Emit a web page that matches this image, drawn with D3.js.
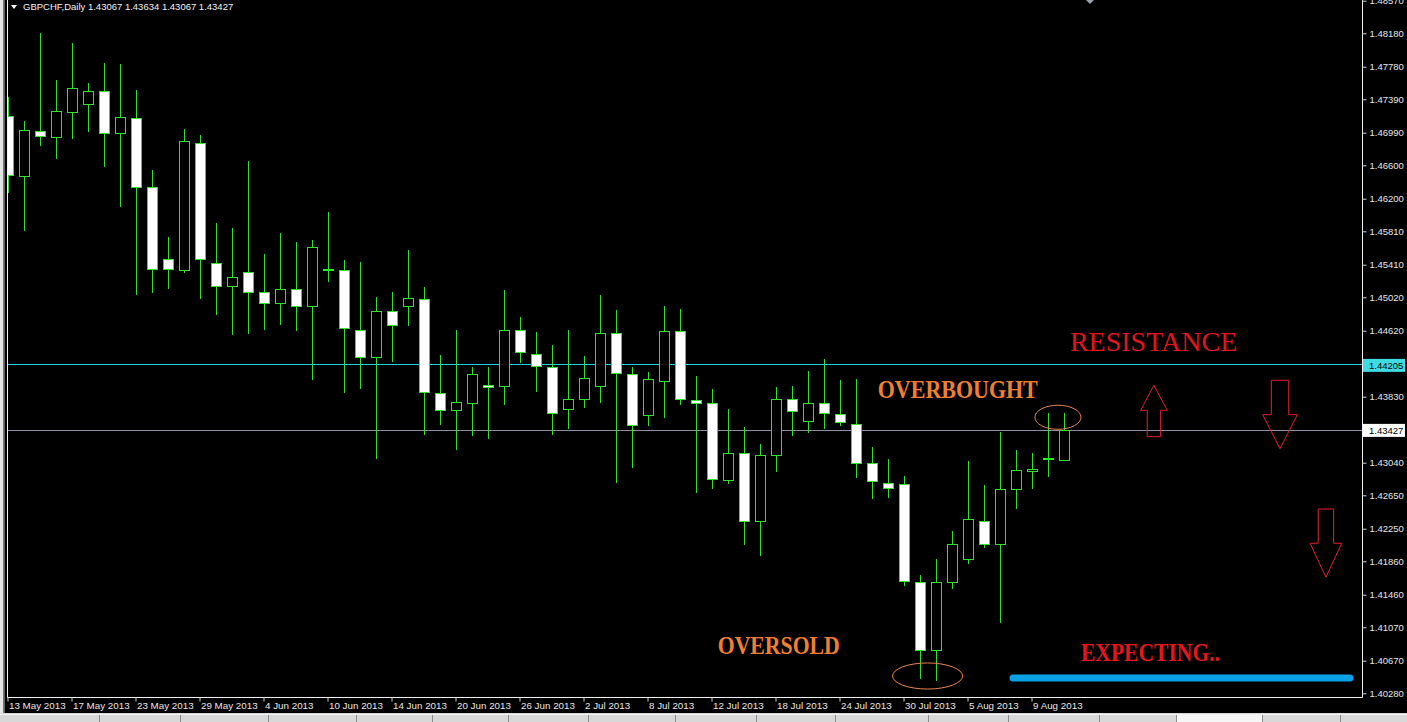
<!DOCTYPE html>
<html><head><meta charset="utf-8">
<script src="https://cdn.jsdelivr.net/npm/d3@7"></script>
<style>html,body{margin:0;padding:0;background:#000;overflow:hidden}</style>
</head><body>
<svg id="c" width="1407" height="722"></svg>
<script>
// ---------------- DATA ----------------
const symbolTitle = "GBPCHF,Daily";
const lastOHLC = [1.43067, 1.43634, 1.43067, 1.43427];

const openP = [
 1.47194, 1.46468, 1.47007, 1.46935, 1.47235, 1.47330, 1.47486, 1.46983, 1.47163, 1.46337,
 1.45479, 1.45343, 1.46864, 1.45427, 1.45152, 1.45319, 1.45080, 1.44948, 1.45120, 1.44912,
 1.45351, 1.45343, 1.44625, 1.44302, 1.44853, 1.44912, 1.44996, 1.43878, 1.43668, 1.43751,
 1.43967, 1.43955, 1.44625, 1.44345, 1.44189, 1.43680, 1.43799, 1.43955, 1.44589, 1.44098,
 1.43608, 1.44015, 1.44613, 1.43794, 1.43751, 1.42830, 1.43153, 1.42339, 1.43129, 1.43806,
 1.43536, 1.43751, 1.43627, 1.43507, 1.43033, 1.42794, 1.42782, 1.41616, 1.40798, 1.41616,
 1.41884, 1.42339, 1.42064, 1.42722, 1.42937, 1.43085, 1.43067];
const highP = [
 1.47421, 1.47134, 1.48187, 1.47618, 1.48068, 1.47589, 1.47828, 1.47813, 1.47502, 1.46544,
 1.45746, 1.47038, 1.46963, 1.45913, 1.45853, 1.46652, 1.45538, 1.45793, 1.45686, 1.45706,
 1.46041, 1.45467, 1.45443, 1.45027, 1.45084, 1.45586, 1.45143, 1.44329, 1.44629, 1.44189,
 1.44189, 1.45108, 1.44788, 1.44605, 1.44453, 1.44629, 1.44317, 1.45048, 1.44868, 1.44189,
 1.44122, 1.44916, 1.44884, 1.44078, 1.43923, 1.43687, 1.43468, 1.43264, 1.43943, 1.43958,
 1.44138, 1.44282, 1.44030, 1.44046, 1.43228, 1.43085, 1.42885, 1.41692, 1.41888, 1.42226,
 1.43061, 1.42777, 1.43408, 1.43189, 1.43153, 1.43632, 1.43634];
const lowP = [
 1.46269, 1.45810, 1.46831, 1.46672, 1.46911, 1.47002, 1.46583, 1.46097, 1.45044, 1.45068,
 1.45123, 1.45315, 1.45003, 1.44805, 1.44565, 1.44581, 1.44629, 1.44692, 1.44613, 1.44030,
 1.45207, 1.43878, 1.43923, 1.43085, 1.44246, 1.44680, 1.43372, 1.43495, 1.43196, 1.43364,
 1.43324, 1.43735, 1.44237, 1.43890, 1.43375, 1.43447, 1.43699, 1.43759, 1.42801, 1.42980,
 1.43480, 1.43579, 1.43731, 1.42681, 1.42726, 1.42785, 1.42052, 1.41924, 1.42929, 1.43360,
 1.43399, 1.43444, 1.43480, 1.42861, 1.42606, 1.42621, 1.41568, 1.40448, 1.40431, 1.41528,
 1.41824, 1.42023, 1.41125, 1.42486, 1.42729, 1.42873, 1.43067];
const closeP = [
 1.46484, 1.47019, 1.46947, 1.47250, 1.47522, 1.47490, 1.46983, 1.47178, 1.46337, 1.45359,
 1.45359, 1.46891, 1.45479, 1.45152, 1.45263, 1.45080, 1.44948, 1.45120, 1.44912, 1.45619,
 1.45351, 1.44649, 1.44302, 1.44856, 1.44685, 1.45008, 1.43883, 1.43668, 1.43763, 1.44098,
 1.43943, 1.44629, 1.44362, 1.44198, 1.43632, 1.43799, 1.44051, 1.44589, 1.44110, 1.43488,
 1.44039, 1.44613, 1.43799, 1.43751, 1.42842, 1.43153, 1.42339, 1.43129, 1.43799, 1.43656,
 1.43751, 1.43632, 1.43524, 1.43033, 1.42818, 1.42734, 1.41621, 1.40798, 1.41616, 1.42064,
 1.42363, 1.42064, 1.42722, 1.42949, 1.42961, 1.43085, 1.43427];

const dateLabels = ["13 May 2013","17 May 2013","23 May 2013","29 May 2013","4 Jun 2013",
 "10 Jun 2013","14 Jun 2013","20 Jun 2013","26 Jun 2013","2 Jul 2013","8 Jul 2013",
 "12 Jul 2013","18 Jul 2013","24 Jul 2013","30 Jul 2013","5 Aug 2013","9 Aug 2013"];
const dateLabelStep = 4;

const priceTicks = [1.48570, 1.48180, 1.47780, 1.47390, 1.46990, 1.46600, 1.46200, 1.45810,
 1.45410, 1.45020, 1.44620, 1.43830, 1.43040, 1.42650, 1.42250, 1.41860, 1.41460,
 1.41070, 1.40670, 1.40280];

const resistanceLevel = 1.44205;
const currentPrice = 1.43427;

// annotation anchors (bar index, price)
const noteTexts  = ["RESISTANCE", "OVERBOUGHT", "OVERSOLD", "EXPECTING.."];
const noteBars   = [66.34, 54.33, 44.33, 67.03];
const notePrices = [1.44381, 1.43818, 1.40750, 1.40670];

const ellipseBars   = [57.44, 65.59];
const ellipsePrices = [1.40487, 1.43584];
const ellipseBarR   = [2.19, 1.44];
const ellipsePriceR = [0.00156, 0.00144];

const arrowBars      = [71.59, 79.47, 82.34];
const arrowTailPrice = [1.43352, 1.44027, 1.42486];
const arrowTipPrice  = [1.43967, 1.43208, 1.41669];

const expectBarFrom = 62.78, expectBarTo = 83.84, expectPrice = 1.40463;

// ---------------- DRAW ----------------
const W = 1407, H = 722;
const plotL = 7, plotR = 1362, plotB = 697;
const svg = d3.select("#c");

const x = d3.scaleLinear().domain([0, 66]).range([8.5, 1064.5]);
const y = d3.scaleLinear().domain([1.40280, 1.48180]).range([693.3, 33.3]);

// window background
svg.append("rect").attr("width", W).attr("height", H).attr("fill", "#000");
svg.append("rect").attr("x", 0).attr("y", 0).attr("width", 3.3).attr("height", 713).attr("fill", "#e4e4e4");
svg.append("rect").attr("x", 3.3).attr("y", 0).attr("width", 1.4).attr("height", 713).attr("fill", "#8a8a8a");

// bottom tab strip
svg.append("rect").attr("x", 0).attr("y", 713).attr("width", W).attr("height", 9).attr("fill", "#d8d8d8");
svg.append("line").attr("x1", 0).attr("x2", W).attr("y1", 714.5).attr("y2", 714.5).attr("stroke", "#f4f4f4");
svg.append("rect").attr("x", 1176).attr("y", 715).attr("width", 86).attr("height", 7).attr("fill", "#f6f6f6");
const tabSeps = [99, 180, 268, 356, 432, 508, 588, 675, 756, 835, 928, 1008, 1099, 1176, 1262, 1340];
svg.selectAll(".tabsep").data(tabSeps).join("line")
  .attr("x1", d => d + 0.5).attr("x2", d => d + 0.5).attr("y1", 715).attr("y2", 722)
  .attr("stroke", "#8c8c8c");

// clip
svg.append("defs").append("clipPath").attr("id", "plotclip")
  .append("rect").attr("x", plotL + 0.5).attr("y", 0).attr("width", plotR - plotL - 0.5).attr("height", plotB);

const plot = svg.append("g").attr("clip-path", "url(#plotclip)");

// horizontal level lines
plot.append("line").attr("x1", plotL).attr("x2", plotR)
  .attr("y1", Math.round(y(resistanceLevel)) - 0.5).attr("y2", Math.round(y(resistanceLevel)) - 0.5)
  .attr("stroke", "#1ed2e0").attr("stroke-width", 1.2);
plot.append("line").attr("x1", plotL).attr("x2", plotR)
  .attr("y1", Math.round(y(currentPrice)) + 0.5).attr("y2", Math.round(y(currentPrice)) + 0.5)
  .attr("stroke", "#8e8ea6").attr("stroke-width", 1);

// candles
const bars = d3.range(openP.length).map(i => ({i, o: openP[i], h: highP[i], l: lowP[i], c: closeP[i]}));
const green = "#35dd35";
plot.selectAll(".wick").data(bars).join("line")
  .attr("x1", d => x(d.i)).attr("x2", d => x(d.i))
  .attr("y1", d => Math.round(y(d.h))).attr("y2", d => Math.round(y(d.l)))
  .attr("stroke", green).attr("stroke-width", 1);

plot.selectAll(".body").data(bars.filter(d => d.o !== d.c)).join("rect")
  .attr("x", d => x(d.i) - 5)
  .attr("y", d => Math.round(y(Math.max(d.o, d.c))) + 0.5)
  .attr("width", 10)
  .attr("height", d => Math.max(1, Math.round(y(Math.min(d.o, d.c))) - Math.round(y(Math.max(d.o, d.c)))))
  .attr("fill", d => d.c > d.o ? "#000" : "#fff")
  .attr("stroke", green).attr("stroke-width", 1);

plot.selectAll(".doji").data(bars.filter(d => d.o === d.c)).join("line")
  .attr("x1", d => x(d.i) - 5.5).attr("x2", d => x(d.i) + 5.5)
  .attr("y1", d => Math.round(y(d.o))).attr("y2", d => Math.round(y(d.o)))
  .attr("stroke", "#22f022").attr("stroke-width", 2);

// annotations
const noteStyle = [
  {fill: "#e0161c", weight: "normal", size: 28, len: null},
  {fill: "#f08030", weight: "bold", size: 26, len: 160},
  {fill: "#f08030", weight: "bold", size: 26, len: 122},
  {fill: "#e0181e", weight: "bold", size: 26, len: 139}
];
noteTexts.forEach((t, k) => {
  const s = noteStyle[k];
  const el = plot.append("text").attr("x", x(noteBars[k])).attr("y", y(notePrices[k]))
    .attr("font-family", "'Liberation Serif','Times New Roman',serif")
    .attr("font-size", s.size).attr("font-weight", s.weight).attr("fill", s.fill).text(t);
  if (s.len) el.attr("textLength", s.len).attr("lengthAdjust", "spacingAndGlyphs");
});

ellipseBars.forEach((b, k) => {
  plot.append("ellipse").attr("cx", x(b)).attr("cy", y(ellipsePrices[k]))
    .attr("rx", x(b + ellipseBarR[k]) - x(b))
    .attr("ry", y(ellipsePrices[k] - ellipsePriceR[k]) - y(ellipsePrices[k]))
    .attr("fill", "none").attr("stroke", "#e8844a").attr("stroke-width", 1);
});

const arrowShape = [
  {headLen: 25, headHalf: 13.3, shaftHalf: 6.7},
  {headLen: 34, headHalf: 17.3, shaftHalf: 8.7},
  {headLen: 34, headHalf: 15.8, shaftHalf: 7.7}
];
arrowBars.forEach((b, k) => {
  const s = arrowShape[k];
  const xc = x(b), tail = y(arrowTailPrice[k]), tip = y(arrowTipPrice[k]);
  const sg = tip < tail ? -1 : 1;
  const hb = tip - sg * s.headLen;
  const pts = [[xc - s.shaftHalf, tail], [xc - s.shaftHalf, hb], [xc - s.headHalf, hb], [xc, tip],
               [xc + s.headHalf, hb], [xc + s.shaftHalf, hb], [xc + s.shaftHalf, tail]];
  plot.append("polygon").attr("points", pts.map(p => p.join(",")).join(" "))
    .attr("fill", "none").attr("stroke", "#e0202a").attr("stroke-width", 1);
});

plot.append("line").attr("x1", x(expectBarFrom)).attr("x2", x(expectBarTo))
  .attr("y1", y(expectPrice)).attr("y2", y(expectPrice))
  .attr("stroke", "#0aa2e4").attr("stroke-width", 7).attr("stroke-linecap", "round");

// frame
svg.append("path").attr("d", `M${plotL + 0.5},0V${plotB + 0.5}H${plotR + 0.5}V0`)
  .attr("fill", "none").attr("stroke", "#f0f0f0").attr("stroke-width", 1);

// right price axis
const yAxis = d3.axisRight(y).tickValues(priceTicks).tickSize(4).tickPadding(3)
  .tickFormat(d3.format(".5f"));
const ya = svg.append("g").attr("transform", `translate(${plotR + 0.5},0)`).call(yAxis);
ya.select(".domain").remove();
ya.selectAll(".tick line").attr("stroke", "#d0d0d0");
ya.selectAll(".tick text").attr("fill", "#e6e6e6").attr("font-family", "'Liberation Sans',Arial,sans-serif")
  .attr("font-size", 9.5);

// highlighted price labels
[[resistanceLevel, "#3fdbe3", "#000"], [currentPrice, "#ffffff", "#000"]].forEach(([v, bg, fg]) => {
  const yy = y(v);
  svg.append("rect").attr("x", plotR + 1).attr("y", yy - 6.5).attr("width", 42).attr("height", 13).attr("fill", bg);
  svg.append("text").attr("x", plotR + 7).attr("y", yy).attr("dy", "0.35em").attr("fill", fg)
    .attr("font-family", "'Liberation Sans',Arial,sans-serif").attr("font-size", 9.5)
    .text(d3.format(".5f")(v));
});

// bottom date axis
const xAxis = d3.axisBottom(x).tickValues(d3.range(0, openP.length, dateLabelStep)).tickSize(4)
  .tickFormat((d, i) => dateLabels[i]);
const xa = svg.append("g").attr("transform", `translate(-1,${plotB + 0.5})`).call(xAxis);
xa.select(".domain").remove();
xa.selectAll(".tick line").attr("stroke", "#d0d0d0");
xa.selectAll(".tick text").attr("text-anchor", "start").attr("x", 1).attr("y", 5).attr("dy", "0.71em")
  .attr("fill", "#e6e6e6").attr("font-family", "'Liberation Sans',Arial,sans-serif").attr("font-size", 9.8);

// header
svg.append("polygon").attr("points", "11,5 17,5 14,9").attr("fill", "#fff");
svg.append("text").attr("x", 23).attr("y", 10).attr("fill", "#f2f2f2")
  .attr("font-family", "'Liberation Sans',Arial,sans-serif").attr("font-size", 9.5)
  .text(symbolTitle + "  " + lastOHLC.map(d3.format(".5f")).join(" "));

// small marker at top
svg.append("polygon").attr("points", "1086,0 1094,0 1090,4").attr("fill", "#9aa0b0");
</script>
</body></html>
